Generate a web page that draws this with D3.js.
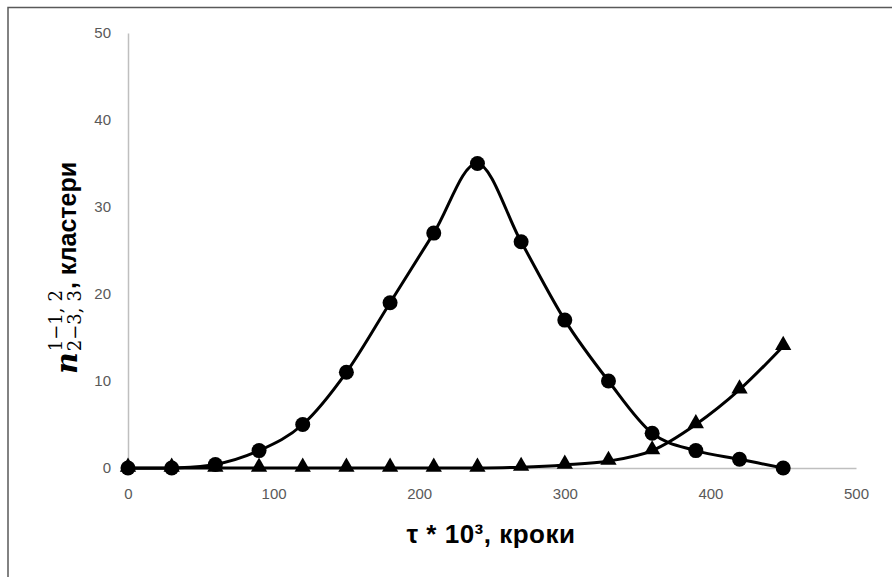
<!DOCTYPE html>
<html>
<head>
<meta charset="utf-8">
<script src="https://cdn.jsdelivr.net/npm/d3@7"></script>
<style>
  body { margin: 0; background: #fff; }
  svg { display: block; }
</style>
</head>
<body>
<svg id="chart" width="892" height="577"></svg>
<script>
// steps, *10^3
var steps = [0, 30, 60, 90, 120, 150, 180, 210, 240, 270, 300, 330, 360, 390, 420, 450];
// circles: n(1-1 / 2-3)
var circleVals = [0, 0, 0.4, 2, 5, 11, 19, 27, 35, 26, 17, 10, 4, 2, 1, 0];
// triangles: n(2 / 3)
var triangleVals = [0, 0, 0, 0, 0, 0, 0, 0, 0, 0.1, 0.35, 0.8, 2, 5, 9, 14];
var xTicks = [0, 100, 200, 300, 400, 500];
var yTicks = [0, 10, 20, 30, 40, 50];

var svg = d3.select('#chart');

var x = d3.scaleLinear().domain([0, 500]).range([128, 856]);
var y = d3.scaleLinear().domain([0, 50]).range([468, 33]);

// frame (only top and left edges show)
svg.append('path')
    .attr('d', 'M8,580 L8,7.5 L895,7.5')
    .attr('fill', 'none')
    .attr('stroke', '#595959')
    .attr('stroke-width', 1.5);

var tickFont = '"Liberation Sans", Arial, sans-serif';

// axes
var xAxis = svg.append('g')
    .attr('transform', 'translate(0,' + y(0) + ')')
    .call(d3.axisBottom(x).tickValues(xTicks).tickSize(0).tickPadding(20));
var yAxis = svg.append('g')
    .attr('transform', 'translate(' + x(0) + ',0)')
    .call(d3.axisLeft(y).tickValues(yTicks).tickSize(0).tickPadding(17));

[xAxis, yAxis].forEach(ax => {
    ax.select('.domain').attr('stroke', '#bfbfbf').attr('stroke-width', 1.5);
    ax.selectAll('text')
        .attr('fill', '#595959')
        .style('font-family', tickFont)
        .style('font-size', '15px');
});

var line = d3.line()
    .x((d, i) => x(steps[i]))
    .y(d => y(d))
    .curve(d3.curveCatmullRom.alpha(0));

svg.append('path')
    .datum(triangleVals)
    .attr('d', line)
    .attr('fill', 'none')
    .attr('stroke', '#000')
    .attr('stroke-width', 3);

svg.append('path')
    .datum(circleVals)
    .attr('d', line)
    .attr('fill', 'none')
    .attr('stroke', '#000')
    .attr('stroke-width', 3);

svg.selectAll('.tri')
    .data(triangleVals)
    .enter().append('path')
    .attr('class', 'tri')
    .attr('d', d3.symbol().type(d3.symbolTriangle).size(115))
    .attr('transform', (d, i) => 'translate(' + x(steps[i]) + ',' + (y(d) - 1) + ')')
    .attr('fill', '#000');

svg.selectAll('.dot')
    .data(circleVals)
    .enter().append('circle')
    .attr('class', 'dot')
    .attr('cx', (d, i) => x(steps[i]))
    .attr('cy', d => y(d))
    .attr('r', 7.5)
    .attr('fill', '#000');

// x title
svg.append('text')
    .attr('x', 491)
    .attr('y', 543)
    .attr('text-anchor', 'middle')
    .style('font-family', tickFont)
    .style('font-weight', 'bold')
    .style('font-size', '26px')
    .style('letter-spacing', '0.5px')
    .attr('fill', '#000')
    .text('τ * 10³, кроки');

// y title, rotated, built piece by piece
var yt = svg.append('g');

var nTxt = yt.append('text')
    .attr('x', 0).attr('y', 0)
    .style('font-family', '"DejaVu Serif", serif')
    .style('font-weight', 'bold')
    .style('font-style', 'italic')
    .style('font-size', '30px')
    .text('n');
var cx = nTxt.node().getComputedTextLength() + 1;

function small(txt, xx, yy) {
    return yt.append('text')
        .attr('x', xx).attr('y', yy)
        .style('font-family', '"DejaVu Serif", serif')
        .style('font-size', '18px')
        .text(txt);
}
var s1 = small('1\u22121,', cx, -15);
var s2 = small('2\u22123,', cx, 4);
cx += Math.max(s1.node().getComputedTextLength(), s2.node().getComputedTextLength()) + 6;
var s3 = small('2', cx, -15);
var s4 = small('3', cx, 4);
cx += Math.max(s3.node().getComputedTextLength(), s4.node().getComputedTextLength()) + 1;

var tail = yt.append('text')
    .attr('x', cx).attr('y', -1)
    .style('font-family', tickFont)
    .style('font-weight', 'bold')
    .style('font-size', '25px')
    .text(', кластери');
var total = cx + tail.node().getComputedTextLength();

yt.attr('transform', 'translate(77,' + (268 + total / 2) + ') rotate(-90)');
</script>
</body>
</html>
